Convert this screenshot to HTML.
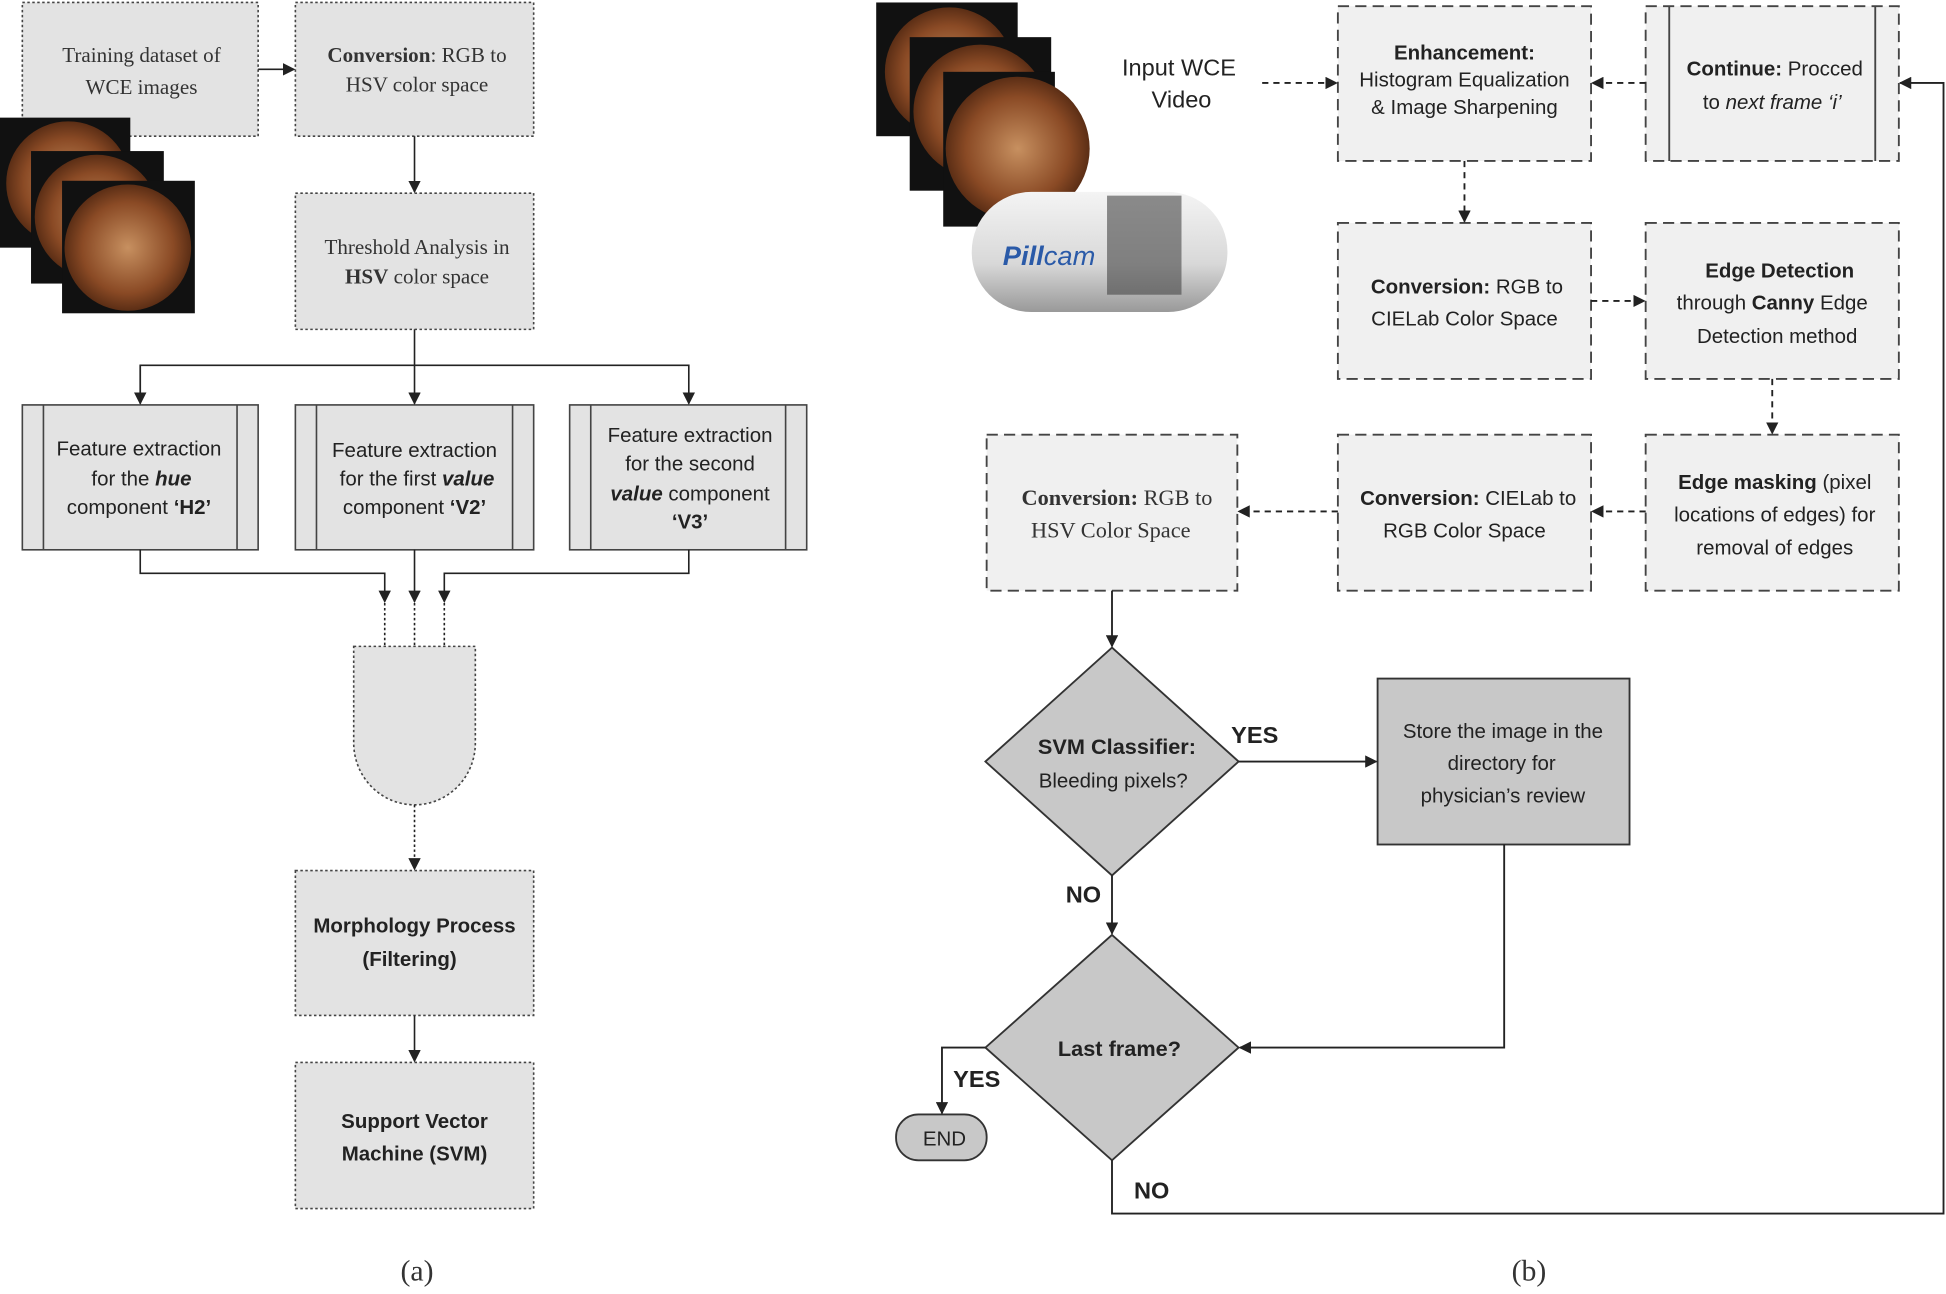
<!DOCTYPE html>
<html><head><meta charset="utf-8"><style>
html,body{margin:0;padding:0;background:#fff;}
svg{display:block;}
.s{font-family:"Liberation Serif",serif;font-size:17px;fill:#333;}
.a{font-family:"Liberation Sans",sans-serif;font-size:16.5px;fill:#222;}
</style></head><body>
<svg width="1946" height="1294" viewBox="0 0 1568 1045" preserveAspectRatio="none" xmlns="http://www.w3.org/2000/svg">
<defs>
<marker id="ar" markerWidth="10" markerHeight="10" refX="9" refY="5" orient="auto" markerUnits="userSpaceOnUse"><path d="M0,0 L10,5 L0,10 z" fill="#222"/></marker>
<radialGradient id="en" cx="0.5" cy="0.5" r="0.6"><stop offset="0" stop-color="#c79060"/><stop offset="0.6" stop-color="#8a4a25"/><stop offset="1" stop-color="#3a1a0a"/></radialGradient>
<linearGradient id="pc" x1="0" y1="0" x2="0" y2="1"><stop offset="0" stop-color="#f4f4f4"/><stop offset="0.6" stop-color="#d8d8d8"/><stop offset="1" stop-color="#999"/></linearGradient>
</defs>
<g fill="#e3e3e3" stroke="#444" stroke-width="1.3" stroke-dasharray="2,2">
<rect x="18" y="2" width="190" height="108"/>
<rect x="238" y="2" width="192" height="108"/>
<rect x="238" y="156" width="192" height="110"/>
<rect x="238" y="703" width="192" height="117"/>
<rect x="238" y="858" width="192" height="118"/>
<path d="M285,522 H383 V600 A49,50 0 0 1 285,600 Z"/>
</g>
<g fill="#e3e3e3" stroke="#444" stroke-width="1.3">
<rect x="18" y="327" width="190" height="117"/><line x1="35" y1="327" x2="35" y2="444"/><line x1="191" y1="327" x2="191" y2="444"/>
<rect x="238" y="327" width="192" height="117"/><line x1="255" y1="327" x2="255" y2="444"/><line x1="413" y1="327" x2="413" y2="444"/>
<rect x="459" y="327" width="191" height="117"/><line x1="476" y1="327" x2="476" y2="444"/><line x1="633" y1="327" x2="633" y2="444"/>
</g>
<!-- images left -->
<g>
<rect x="0" y="95" width="105" height="105" fill="#111"/><circle cx="55" cy="148" r="50" fill="url(#en)"/>
<rect x="25" y="122" width="107" height="107" fill="#111"/><circle cx="78" cy="175" r="50" fill="url(#en)"/>
<rect x="50" y="146" width="107" height="107" fill="#111"/><circle cx="103" cy="200" r="51" fill="url(#en)"/>
</g>
<g stroke="#222" stroke-width="1.3" fill="none">
<line x1="208" y1="56" x2="237" y2="56" marker-end="url(#ar)"/>
<line x1="334" y1="110" x2="334" y2="155" marker-end="url(#ar)"/>
<line x1="334" y1="266" x2="334" y2="326" marker-end="url(#ar)"/>
<polyline points="113,326 113,295 555,295 555,326" marker-end="url(#ar)"/>
<line x1="113" y1="295" x2="113" y2="326" marker-end="url(#ar)"/>
<polyline points="113,444 113,463 310,463 310,486" marker-end="url(#ar)"/>
<line x1="334" y1="444" x2="334" y2="486" marker-end="url(#ar)"/>
<polyline points="555,444 555,463 358,463 358,486" marker-end="url(#ar)"/>
<g stroke-dasharray="2,2"><line x1="310" y1="487" x2="310" y2="522"/><line x1="334" y1="487" x2="334" y2="522"/><line x1="358" y1="487" x2="358" y2="522"/>
<line x1="334" y1="650" x2="334" y2="702" marker-end="url(#ar)"/></g>
<line x1="334" y1="820" x2="334" y2="857" marker-end="url(#ar)"/>
</g>
<g class="s" text-anchor="middle">
<text x="114" y="50">Training dataset of</text><text x="114" y="76">WCE images</text>
<text x="336" y="50"><tspan font-weight="bold">Conversion</tspan>: RGB to</text><text x="336" y="74">HSV color space</text>
<text x="336" y="205">Threshold Analysis in</text><text x="336" y="229"><tspan font-weight="bold">HSV</tspan> color space</text>
<text x="336" y="1034" font-size="24">(a)</text>
<text x="1232" y="1034" font-size="24">(b)</text>
</g>
<g class="a" text-anchor="middle">
<text x="112" y="368">Feature extraction</text><text x="114" y="392">for the <tspan font-weight="bold" font-style="italic">hue</tspan></text><text x="112" y="415">component <tspan font-weight="bold">‘H2’</tspan></text>
<text x="334" y="369">Feature extraction</text><text x="336" y="392">for the first <tspan font-weight="bold" font-style="italic">value</tspan></text><text x="334" y="415">component <tspan font-weight="bold">‘V2’</tspan></text>
<text x="556" y="357">Feature extraction</text><text x="556" y="380">for the second</text><text x="556" y="404"><tspan font-weight="bold" font-style="italic">value</tspan> component</text><text x="556" y="427" font-weight="bold">‘V3’</text>
<text x="334" y="753" font-weight="bold">Morphology Process</text><text x="330" y="780" font-weight="bold">(Filtering)</text>
<text x="334" y="911" font-weight="bold">Support Vector</text><text x="334" y="937" font-weight="bold">Machine (SVM)</text>
</g>
<!-- right panel -->
<g>
<rect x="706" y="2" width="114" height="108" fill="#111"/><circle cx="765" cy="58" r="52" fill="url(#en)"/>
<rect x="733" y="30" width="114" height="124" fill="#111"/><circle cx="790" cy="90" r="54" fill="url(#en)"/>
<rect x="760" y="58" width="90" height="125" fill="#111"/><circle cx="820" cy="120" r="58" fill="url(#en)"/>
<rect x="760" y="58" width="90" height="125" fill="none"/>
<rect x="783" y="155" width="206" height="97" rx="48" fill="url(#pc)"/>
<rect x="892" y="158" width="60" height="80" fill="#444" opacity="0.6"/>
<text x="808" y="214" font-family="Liberation Sans,sans-serif" font-size="22" font-style="italic" font-weight="bold" fill="#2a5aa8">Pill<tspan font-weight="normal">cam</tspan></text>
</g>
<g class="a" text-anchor="middle" font-size="19"><text x="950" y="61" style="font-size:19px">Input WCE</text><text x="952" y="87" style="font-size:19px">Video</text></g>
<g fill="#f0f0f0" stroke="#444" stroke-width="1.5" stroke-dasharray="9,5">
<rect x="1078" y="5" width="204" height="125"/>
<rect x="1326" y="5" width="204" height="125"/>
<rect x="1078" y="180" width="204" height="126"/>
<rect x="1326" y="180" width="204" height="126"/>
<rect x="795" y="351" width="202" height="126"/>
<rect x="1078" y="351" width="204" height="126"/>
<rect x="1326" y="351" width="204" height="126"/>
</g>
<g stroke="#444" stroke-width="1.5"><line x1="1345" y1="5" x2="1345" y2="130"/><line x1="1511" y1="5" x2="1511" y2="130"/></g>
<g fill="#c8c8c8" stroke="#333" stroke-width="1.5">
<polygon points="896,523 998,615 896,707 794,615"/>
<rect x="1110" y="548" width="203" height="134"/>
<polygon points="896,755 998,846 896,937 794,846"/>
<rect x="722" y="900" width="73" height="37" rx="18"/>
</g>
<g stroke="#222" stroke-width="1.5" fill="none">
<g stroke-dasharray="5,4">
<line x1="1017" y1="67" x2="1077" y2="67" marker-end="url(#ar)"/>
<line x1="1326" y1="67" x2="1283" y2="67" marker-end="url(#ar)"/>
<line x1="1180" y1="130" x2="1180" y2="179" marker-end="url(#ar)"/>
<line x1="1282" y1="243" x2="1325" y2="243" marker-end="url(#ar)"/>
<line x1="1428" y1="306" x2="1428" y2="350" marker-end="url(#ar)"/>
<line x1="1326" y1="413" x2="1283" y2="413" marker-end="url(#ar)"/>
<line x1="1078" y1="413" x2="998" y2="413" marker-end="url(#ar)"/>
</g>
<line x1="896" y1="477" x2="896" y2="522" marker-end="url(#ar)"/>
<line x1="998" y1="615" x2="1109" y2="615" marker-end="url(#ar)"/>
<line x1="896" y1="707" x2="896" y2="754" marker-end="url(#ar)"/>
<polyline points="1212,682 1212,846 999,846" marker-end="url(#ar)"/>
<polyline points="794,846 759,846 759,899" marker-end="url(#ar)"/>
<polyline points="896,937 896,980 1566,980 1566,67 1531,67" marker-end="url(#ar)"/>
</g>
<g class="a" text-anchor="middle">
<text x="1180" y="48" font-weight="bold">Enhancement:</text><text x="1180" y="70">Histogram Equalization</text><text x="1180" y="92">&amp; Image Sharpening</text>
<text x="1430" y="61"><tspan font-weight="bold">Continue:</tspan> Procced</text><text x="1428" y="88">to <tspan font-style="italic">next frame ‘i’</tspan></text>
<text x="1182" y="237"><tspan font-weight="bold">Conversion:</tspan> RGB to</text><text x="1180" y="263">CIELab Color Space</text>
<text x="1434" y="224" font-weight="bold">Edge Detection</text><text x="1428" y="250">through <tspan font-weight="bold">Canny</tspan> Edge</text><text x="1432" y="277">Detection method</text>
<text x="1430" y="395"><tspan font-weight="bold">Edge masking</tspan> (pixel</text><text x="1430" y="421">locations of edges) for</text><text x="1430" y="448">removal of edges</text>
<text x="1183" y="408"><tspan font-weight="bold">Conversion:</tspan> CIELab to</text><text x="1180" y="434">RGB Color Space</text>
<text x="900" y="408" class="s" style="font-size:18px"><tspan font-weight="bold">Conversion:</tspan> RGB to</text><text x="895" y="434" class="s" style="font-size:18px">HSV Color Space</text>
<text x="900" y="609" font-weight="bold" style="font-size:17.5px">SVM Classifier:</text><text x="897" y="636">Bleeding pixels?</text>
<text x="1211" y="596">Store the image in the</text><text x="1210" y="622">directory for</text><text x="1211" y="648">physician’s review</text>
<text x="902" y="853" font-weight="bold" style="font-size:17.5px">Last frame?</text>
<text x="761" y="925">END</text>
<text x="1011" y="600" font-weight="bold" style="font-size:19px">YES</text>
<text x="873" y="729" font-weight="bold" style="font-size:19px">NO</text>
<text x="787" y="878" font-weight="bold" style="font-size:19px">YES</text>
<text x="928" y="968" font-weight="bold" style="font-size:19px">NO</text>
</g>
</svg>
</body></html>
